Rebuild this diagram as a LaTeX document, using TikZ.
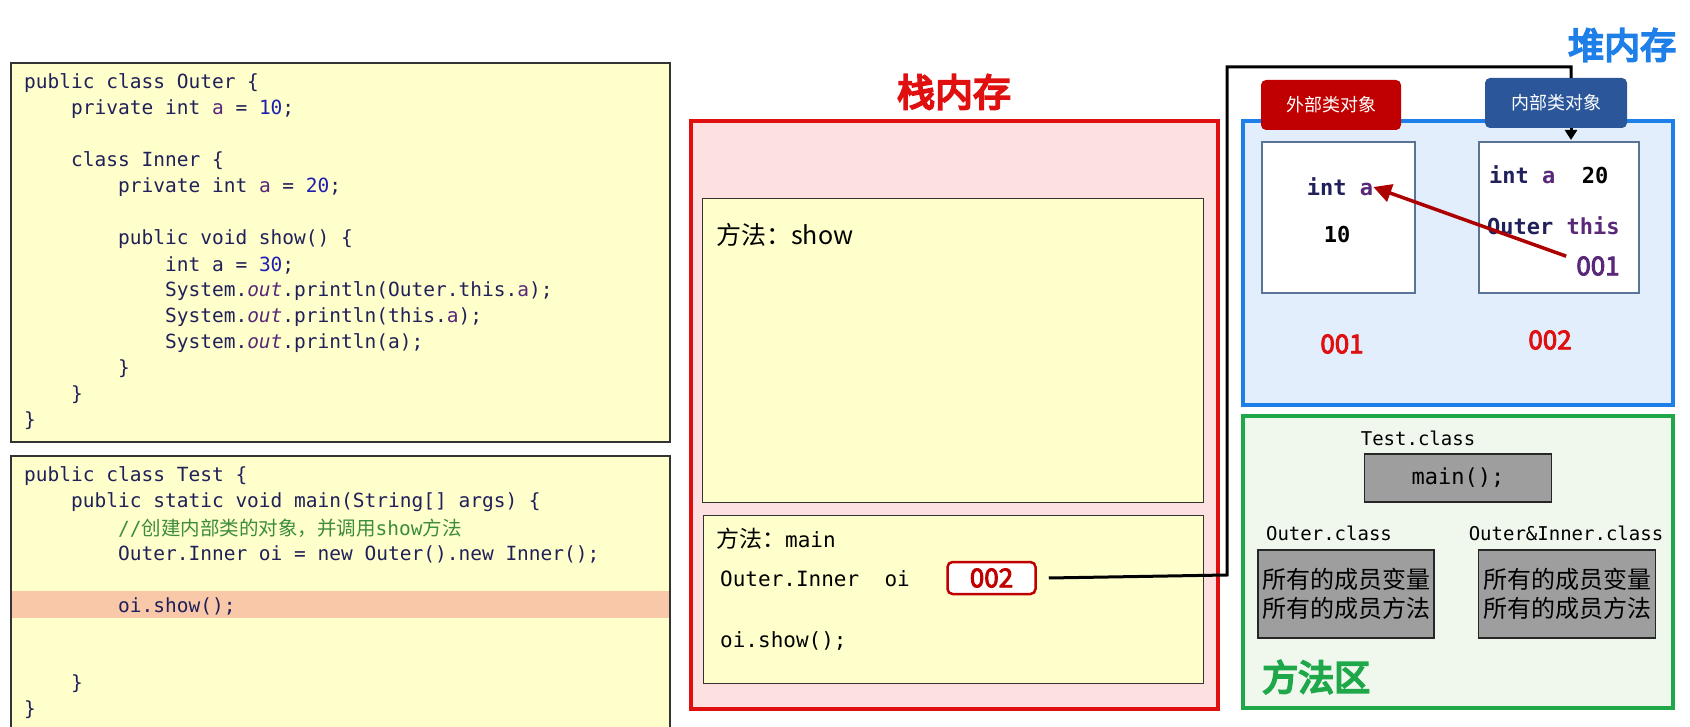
\documentclass[tikz,border=0pt]{standalone}
\usepackage{fontspec}
\setmainfont{Noto Sans CJK SC}
\setmonofont{DejaVu Sans Mono}
\newfontfamily\cjk{Noto Sans CJK SC}
\newcommand\thick[2]{\special{pdf:literal direct #1 w 2 Tr}#2\special{pdf:literal direct 0 Tr}}
\usetikzlibrary{arrows.meta}
\definecolor{codebg}{HTML}{FFFFCC}
\definecolor{kw}{HTML}{20205A}
\definecolor{num}{HTML}{1E1EB4}
\definecolor{cmt}{HTML}{3C8C3C}
\definecolor{varc}{HTML}{5A2878}
\definecolor{stackred}{HTML}{E01010}
\definecolor{stackbg}{HTML}{FDE0E0}
\definecolor{heapblue}{HTML}{1E7FE8}
\definecolor{heapbg}{HTML}{E2EEFB}
\definecolor{methgreen}{HTML}{1FA84A}
\definecolor{methbg}{HTML}{F0F8EE}
\definecolor{tagred}{HTML}{C00000}
\definecolor{tagblue}{HTML}{2B579A}
\definecolor{objedge}{HTML}{5A7498}
\definecolor{hl}{HTML}{F8C8A8}
\begin{document}
\begin{tikzpicture}[x=1pt,y=-1pt,
  code/.style={anchor=west,inner sep=0pt,font=\ttfamily\fontsize{19.5}{19.5}\selectfont,text=kw},
  frame/.style={draw=black!80,line width=1.2pt,fill=codebg},
  stk/.style={anchor=west,inner sep=0pt,font=\ttfamily\fontsize{21}{21}\selectfont},
  heap/.style={inner sep=0pt,font=\ttfamily\bfseries\fontsize{22}{22}\selectfont,text=kw},
  addr/.style={inner sep=0pt,font=\cjk\fontsize{26}{26}\selectfont},
  tag/.style={rounded corners=5pt,inner sep=0pt,text=white,font=\cjk\fontsize{18}{18}\selectfont},
  graybox/.style={draw=black!85,line width=1.2pt,fill=black!38},
  cls/.style={inner sep=0pt,font=\ttfamily\fontsize{19}{19}\selectfont}]
\useasboundingbox (0,0) rectangle (1690,727);
\fill[white] (0,0) rectangle (1690,727);
% ---------- code box 1
\draw[frame] (11,63) rectangle (670,442);
\node[code] (c1) at (24,83) {public class Outer \{};
\node[code] (c2) at (24,109) {\ \ \ \ private int \textcolor{varc}{a} = \textcolor{num}{10};};
\node[code] (c3) at (24,161) {\ \ \ \ class Inner \{};
\node[code] (c4) at (24,187) {\ \ \ \ \ \ \ \ private int \textcolor{varc}{a} = \textcolor{num}{20};};
\node[code] (c5) at (24,239) {\ \ \ \ \ \ \ \ public void show() \{};
\node[code] (c6) at (24,265) {\ \ \ \ \ \ \ \ \ \ \ \ int a = \textcolor{num}{30};};
\node[code] (c7) at (24,291) {\ \ \ \ \ \ \ \ \ \ \ \ System.\textit{\textcolor{varc}{out}}.println(Outer.this.\textcolor{varc}{a});};
\node[code] (c8) at (24,317) {\ \ \ \ \ \ \ \ \ \ \ \ System.\textit{\textcolor{varc}{out}}.println(this.\textcolor{varc}{a});};
\node[code] (c9) at (24,343) {\ \ \ \ \ \ \ \ \ \ \ \ System.\textit{\textcolor{varc}{out}}.println(a);};
\node[code] (c10) at (24,369) {\ \ \ \ \ \ \ \ \}};
\node[code] (c11) at (24,395) {\ \ \ \ \}};
\node[code] (c12) at (24,421) {\}};
% ---------- code box 2
\draw[frame] (11,456) rectangle (670,740);
\fill[hl] (12,591) rectangle (669,618);
\node[code] (d1) at (24,476) {public class Test \{};
\node[code] (d2) at (24,502) {\ \ \ \ public static void main(String[] args) \{};
\node[code] (d3) at (24,528) {\ \ \ \ \ \ \ \ \textcolor{cmt}{//{\cjk 创建内部类的对象，并调用}show{\cjk 方法}}};
\node[code] (d4) at (24,554) {\ \ \ \ \ \ \ \ Outer.Inner oi = new Outer().new Inner();};
\node[code] (d5) at (24,606) {\ \ \ \ \ \ \ \ oi.show();};
\node[code] (d6) at (24,684) {\ \ \ \ \}};
\node[code] (d7) at (24,710) {\}};
% ---------- stack
\node[inner sep=0pt,text=stackred,font=\cjk\fontsize{38}{38}\selectfont] (stt) at (954,92) {\thick{2}{栈内存}};
\draw[draw=stackred,line width=4pt,fill=stackbg] (691,121) rectangle (1218,709);
\draw[frame,line width=1pt] (702,199) rectangle (1203,502);
\draw[frame,line width=1pt] (703,515) rectangle (1203,683);
\node[stk,font=\fontsize{25}{25}\selectfont] (ms) at (716,235) {方法：show};
\node[stk] (mm) at (716,539) {{\cjk\fontsize{23}{23}\selectfont 方法：}main};
\node[stk] (oi) at (720,579) {Outer.Inner\ \ oi};
\node[draw=tagred,line width=2.5pt,rounded corners=5pt,fill=white,minimum width=88pt,minimum height=32pt,addr,text=tagred] (p002) at (991.5,578) {\thick{0.9}{002}};
\node[stk] (call) at (720,641) {oi.show();};
% ---------- heap
\node[inner sep=0pt,anchor=west,text=heapblue,font=\cjk\fontsize{36}{36}\selectfont] (ht) at (1568,45) {\thick{2}{堆内存}};
\draw[draw=heapblue,line width=4pt,fill=heapbg] (1243,121) rectangle (1673,405);
\draw[draw=objedge,line width=2.5pt,fill=white] (1262,142) rectangle (1415,293);
\draw[draw=objedge,line width=2.5pt,fill=white] (1479,142) rectangle (1639,293);
\node[tag,fill=tagred,minimum width=140pt,minimum height=50pt] (to) at (1331,105) {外部类对象};
\node[tag,fill=tagblue,minimum width=142pt,minimum height=50pt] (ti) at (1556,103) {内部类对象};
\coordinate (inTop) at (1571,140);
\node[heap] (oa) at (1340,187) {int \textcolor{varc}{a}};
\node[heap,text=black] (o10) at (1337,234) {10};
\node[heap,anchor=west] (ia) at (1489,175) {int \textcolor{varc}{a}\ \ \textcolor{black}{20}};
\node[heap,anchor=west] (ith) at (1487,226) {Outer \textcolor{varc}{this}};
\node[addr,text=varc] (i001) at (1598,266) {\thick{0.9}{001}};
\node[addr,text=stackred] (a001) at (1342,344) {\thick{0.9}{001}};
\node[addr,text=stackred] (a002) at (1550,340) {\thick{0.9}{002}};
\draw[tagred!90!black,line width=3.5pt,-{Triangle[length=18pt,width=18pt]}] (i001.north west) ++(-10,0) coordinate (arS) -- (oa.east);
% black pointer
\coordinate (bend1) at (1227,575);
\coordinate (bend2) at (1227,67);
\coordinate (bend3) at (1571,67);
\draw[line width=3pt] (p002.east) ++(12,0) -- (bend1) -- (bend2) -- (bend3) -- (ti.north -| bend3);
\draw[line width=3pt,-{Triangle[length=10pt,width=12pt]}] (ti.south -| bend3) -- (inTop);
% ---------- method area
\draw[draw=methgreen,line width=4pt,fill=methbg] (1243,416) rectangle (1673,708);
\node[cls] (tc) at (1418,438) {Test.class};
\node[graybox,minimum width=187pt,minimum height=48pt,cls,font=\ttfamily\fontsize{22}{22}\selectfont] (mb) at (1458,478) {main();\hspace{70pt}};
\node[cls] (oc) at (1329,533) {Outer.class};
\node[cls] (ic) at (1566,533) {Outer\&Inner.class};
\node[graybox,minimum width=176pt,minimum height=88pt,inner sep=0pt,font=\cjk\fontsize{24}{29}\selectfont,align=center] (ob) at (1346,594) {所有的成员变量\\所有的成员方法};
\node[graybox,minimum width=177pt,minimum height=88pt,inner sep=0pt,font=\cjk\fontsize{24}{29}\selectfont,align=center] (ib) at (1567,594) {所有的成员变量\\所有的成员方法};
\node[inner sep=0pt,anchor=west,text=methgreen,font=\cjk\fontsize{36}{36}\selectfont] (mt) at (1262,677) {\thick{2}{方法区}};
\end{tikzpicture}
\end{document}
